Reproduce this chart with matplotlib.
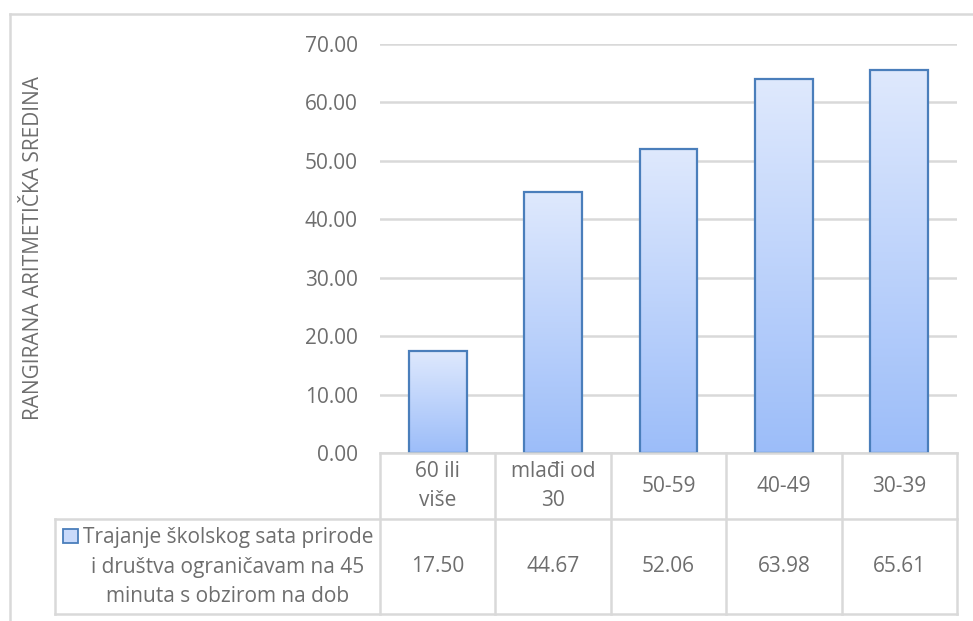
import matplotlib
matplotlib.use("Agg")
import matplotlib.pyplot as plt
import numpy as np
from matplotlib.lines import Line2D
from matplotlib.patches import Rectangle
from matplotlib.colors import LinearSegmentedColormap

categories = ["60 ili\nviše", "mlađi od\n30", "50-59", "40-49", "30-39"]
values = [17.50, 44.67, 52.06, 63.98, 65.61]
series_name = "Trajanje školskog sata prirode\ni društva ograničavam na 45\nminuta s obzirom na dob"
y_label = "RANGIRANA ARITMETIČKA SREDINA"
y_ticks = [0, 10, 20, 30, 40, 50, 60, 70]

W, H = 973, 621
fig = plt.figure(figsize=(W / 100, H / 100), dpi=100)
plt.rcParams['font.family'] = ['Open Sans', 'DejaVu Sans']
txt = "#6e6e6e"
grid = "#d9d9d9"
fs = 15

def fx(px):
    return px / W

def fy(py):
    return 1 - py / H

ax_l, ax_r, ax_t, ax_b = 380, 957, 44, 453
ax = fig.add_axes([fx(ax_l), fy(ax_b), fx(ax_r - ax_l), (ax_b - ax_t) / H])
n = len(values)
ax.set_xlim(0, n)
ax.set_ylim(0, 70)
ax.set_yticks(y_ticks)
ax.set_yticklabels([f"{t:.2f}" for t in y_ticks], color=txt, fontsize=fs)
ax.tick_params(axis='y', length=0, pad=16)
ax.set_xticks([])
for s in ax.spines.values():
    s.set_visible(False)
ax.yaxis.grid(True, color=grid, linewidth=1.8)
ax.set_axisbelow(True)

cmap = LinearSegmentedColormap.from_list("g", ["#9cbdf9", "#dfe9fd"])
grad = np.linspace(0, 1, 256).reshape(-1, 1)
bw = 0.5
for i, v in enumerate(values):
    x0 = i + 0.5 - bw / 2
    rect = ax.bar(i + 0.5, v, width=bw, facecolor="none", edgecolor="#4a7ebb",
                  linewidth=1.6, zorder=4)[0]
    im = ax.imshow(grad, extent=[x0, x0 + bw, 0, v], origin="lower", cmap=cmap,
                   aspect="auto", zorder=3)
    im.set_clip_path(rect)
ax.set_xlim(0, n)
ax.set_ylim(0, 70)

# y label
fig.text(fx(34), fy(248), y_label, rotation=90, ha="center", va="center",
         color=txt, fontsize=fs)

def fline(x1, y1, x2, y2):
    fig.add_artist(Line2D([fx(x1), fx(x2)], [fy(y1), fy(y2)], color=grid,
                          linewidth=1.8))

# chart border
fline(10, 14, 973, 14)
fline(10, 14, 10, 621)

# data table
row1_b = 519
tab_b = 614
leg_l = 55
colw = (ax_r - ax_l) / n
fline(ax_l, ax_b, ax_r, ax_b)
fline(leg_l, row1_b, ax_r, row1_b)
fline(leg_l, tab_b, ax_r, tab_b)
fline(leg_l, row1_b, leg_l, tab_b)
for k in range(n + 1):
    x = ax_l + k * colw
    fline(x, ax_b, x, tab_b)

for i, (c, v) in enumerate(zip(categories, values)):
    cx = ax_l + (i + 0.5) * colw
    fig.text(fx(cx), fy((ax_b + row1_b) / 2), c, ha="center", va="center",
             color=txt, fontsize=fs, linespacing=1.55)
    fig.text(fx(cx), fy((row1_b + tab_b) / 2), f"{v:.2f}", ha="center",
             va="center", color=txt, fontsize=fs)

# legend entry
fig.text(fx(228), fy(567), series_name, ha="center", va="center", color=txt,
         fontsize=fs, linespacing=1.55)
fig.add_artist(Rectangle((fx(63), fy(543)), fx(15), 14 / H, facecolor="#c9dafb",
                         edgecolor="#4a7ebb", linewidth=1.3))

fig.savefig("out.png", dpi=100)
